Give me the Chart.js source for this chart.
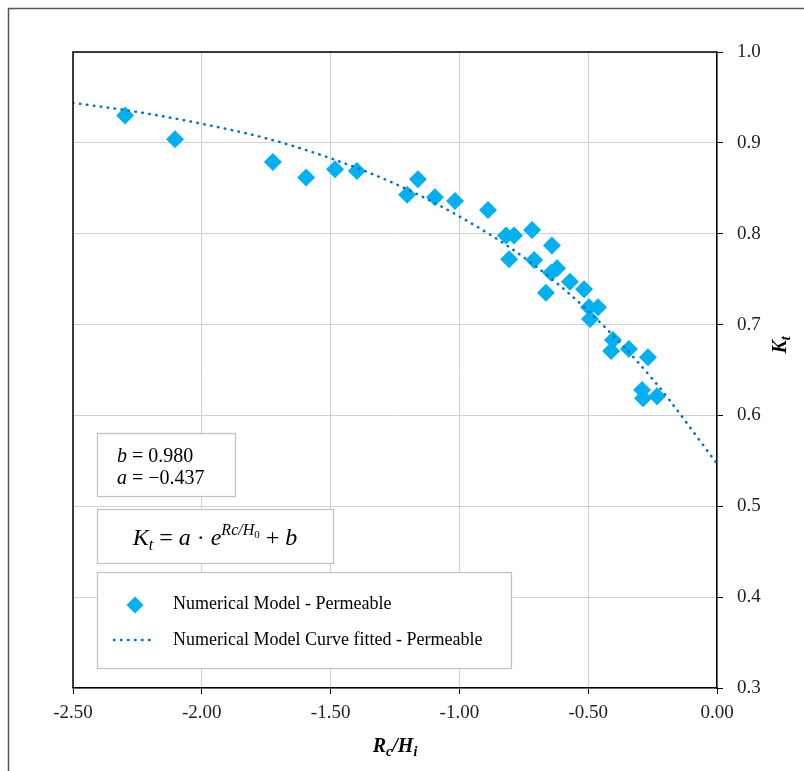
<!DOCTYPE html>
<html><head><meta charset="utf-8">
<script src="https://cdn.jsdelivr.net/npm/chart.js@4/dist/chart.umd.min.js"></script>
<style>html,body{margin:0;padding:0;background:#fff;}#wrap{width:804px;height:771px;position:relative;}</style>
</head><body><div id="wrap"><canvas id="c" width="804" height="771"></canvas></div>
<script>
// ---- data ----
const modelX = [-2.298,-2.104,-1.724,-1.595,-1.483,-1.398,-1.203,-1.161,-1.095,-1.017,-0.889,-0.819,-0.807,-0.788,-0.718,-0.710,-0.664,-0.644,-0.641,-0.621,-0.571,-0.516,-0.497,-0.493,-0.462,-0.411,-0.404,-0.342,-0.291,-0.287,-0.268,-0.233];
const modelY = [0.930,0.904,0.879,0.862,0.871,0.869,0.843,0.860,0.840,0.836,0.826,0.798,0.772,0.798,0.804,0.771,0.735,0.757,0.787,0.762,0.747,0.739,0.719,0.706,0.719,0.671,0.683,0.673,0.628,0.619,0.664,0.621];
const fitX = [-2.5,-2.25,-2.0,-1.75,-1.5,-1.25,-1.0,-0.75,-0.5,-0.25,0.0];
const fitY = [0.944,0.934,0.921,0.905,0.883,0.855,0.819,0.774,0.715,0.640,0.547];
const xTicks = [-2.5,-2.0,-1.5,-1.0,-0.5,0.0];
const yTicks = [0.3,0.4,0.5,0.6,0.7,0.8,0.9,1.0];
const seriesNames = ['Numerical Model - Permeable','Numerical Model Curve fitted - Permeable'];
const coefB = '0.980';
const coefA = '\u22120.437';

const SERIF = '"Liberation Serif", "Times New Roman", serif';
const PT_COLOR = '#00B0F0';
const LINE_COLOR = '#0070C0';

function runsWidth(ctx, runs){ let w=0; for(const r of runs){ ctx.font=r.f; w+=ctx.measureText(r.t).width; } return w; }
function drawRuns(ctx, x, y, runs){ for(const r of runs){ ctx.font=r.f; ctx.fillText(r.t, x, y+(r.dy||0)); x+=ctx.measureText(r.t).width; } }
function diamond(ctx, x, y, r){ ctx.beginPath(); ctx.moveTo(x, y-r); ctx.lineTo(x+r, y); ctx.lineTo(x, y+r); ctx.lineTo(x-r, y); ctx.closePath(); ctx.fill(); }

const decor = {
  id: 'decor',
  beforeDraw(chart){
    const ctx = chart.ctx;
    ctx.save();
    ctx.fillStyle = '#fff'; ctx.fillRect(0,0,chart.width,chart.height);
    ctx.strokeStyle = '#555'; ctx.lineWidth = 1.5;
    ctx.beginPath(); ctx.moveTo(8.5, chart.height); ctx.lineTo(8.5, 8.5); ctx.lineTo(chart.width, 8.5); ctx.stroke();
    ctx.restore();
  },
  afterDraw(chart){
    const ctx = chart.ctx, ca = chart.chartArea;
    ctx.save();
    ctx.strokeStyle = '#000'; ctx.lineWidth = 1.5;
    ctx.beginPath(); ctx.moveTo(ca.left, ca.bottom); ctx.lineTo(ca.left, ca.top); ctx.lineTo(ca.right, ca.top); ctx.stroke();
    ctx.fillStyle = '#000'; ctx.textBaseline = 'alphabetic'; ctx.textAlign = 'left';
    const bi = 'bold italic 20px '+SERIF, bis = 'bold italic 14px '+SERIF;
    const xr = [{t:'R',f:bi},{t:'c',f:bis,dy:4},{t:'/',f:bi},{t:'H',f:bi},{t:'i',f:bis,dy:4}];
    const xw = runsWidth(ctx, xr);
    drawRuns(ctx, (ca.left+ca.right)/2 - xw/2, 752, xr);
    const yr = [{t:'K',f:bi},{t:'t',f:bis,dy:4}];
    const yw = runsWidth(ctx, yr);
    ctx.save(); ctx.translate(786, 345); ctx.rotate(-Math.PI/2);
    drawRuns(ctx, -yw/2, 0, yr); ctx.restore();
    const bx = ca.left+24;
    ctx.fillStyle='#fff'; ctx.fillRect(bx, 433, 138, 63);
    ctx.strokeStyle='#bfbfbf'; ctx.lineWidth=1.2; ctx.strokeRect(bx+0.5, 433.5, 138, 63);
    ctx.fillStyle='#000';
    const it='italic 20px '+SERIF, up='20px '+SERIF;
    drawRuns(ctx, bx+20, 462, [{t:'b',f:it},{t:' = ',f:up},{t:coefB,f:up}]);
    drawRuns(ctx, bx+20, 484, [{t:'a',f:it},{t:' = ',f:up},{t:coefA,f:up}]);
    ctx.fillStyle='#fff'; ctx.fillRect(bx, 509, 236, 54);
    ctx.strokeStyle='#bfbfbf'; ctx.strokeRect(bx+0.5, 509.5, 236, 54);
    ctx.fillStyle='#000';
    const it2='italic 24px '+SERIF, up2='24px '+SERIF, sit='italic 16px '+SERIF, sup='11px '+SERIF;
    const fr = [{t:'K',f:it2},{t:'t',f:sit,dy:5},{t:' = ',f:up2},{t:'a',f:it2},{t:' \u00B7 ',f:up2},{t:'e',f:it2},
                {t:'Rc/H',f:sit,dy:-10},{t:'0',f:sup,dy:-7},{t:' + ',f:up2},{t:'b',f:it2}];
    const fw = runsWidth(ctx, fr);
    drawRuns(ctx, bx + 118 - fw/2, 545, fr);
    ctx.fillStyle='#fff'; ctx.fillRect(bx, 572, 414, 96);
    ctx.strokeStyle='#bfbfbf'; ctx.strokeRect(bx+0.5, 572.5, 414, 96);
    ctx.fillStyle = PT_COLOR; diamond(ctx, 135, 605, 8.5);
    ctx.strokeStyle = LINE_COLOR; ctx.lineWidth = 2.5; ctx.lineCap='round'; ctx.setLineDash([0.5,6.5]);
    ctx.beginPath(); ctx.moveTo(114, 640); ctx.lineTo(155, 640); ctx.stroke(); ctx.setLineDash([]);
    ctx.fillStyle='#000'; ctx.font='18px '+SERIF;
    ctx.fillText(seriesNames[0], 173, 609);
    ctx.fillText(seriesNames[1], 173, 645);
    ctx.restore();
  }
};

const scatterData = modelX.map((x,i)=>({x, y: modelY[i]}));
const fitData = fitX.map((x,i)=>({x, y: fitY[i]}));

new Chart(document.getElementById('c'), {
  type: 'scatter',
  data: { datasets: [
    { label: seriesNames[1], type: 'line', data: fitData, showLine: true, pointRadius: 0, borderColor: LINE_COLOR,
      borderWidth: 2.5, borderDash: [0.5, 6.5], borderCapStyle: 'round', cubicInterpolationMode: 'monotone', fill: false, order: 0 },
    { label: seriesNames[0], data: scatterData, pointStyle: 'rectRot', pointRadius: 9, pointHoverRadius: 9,
      backgroundColor: PT_COLOR, borderColor: PT_COLOR, borderWidth: 0, order: 1 }
  ]},
  options: {
    responsive: false, animation: false, devicePixelRatio: 1,
    layout: { padding: { left: 73, top: 52, right: 0, bottom: 0 } },
    plugins: { legend: { display: false }, tooltip: { enabled: false } },
    scales: {
      x: { type: 'linear', position: 'bottom', min: -2.5, max: 0,
        afterBuildTicks: s => { s.ticks = xTicks.map(v=>({value:v})); },
        afterFit: s => { s.height = 83; },
        ticks: { callback: v => Number(v).toFixed(2), font: { family: SERIF, size: 19 }, color: '#222', padding: 8, maxRotation: 0 },
        grid: { color: '#d0d0d0', lineWidth: 1, tickColor: '#000', tickLength: 6 },
        border: { color: '#000', width: 1.5 } },
      y: { type: 'linear', position: 'right', min: 0.3, max: 1.0,
        afterBuildTicks: s => { s.ticks = yTicks.map(v=>({value:v})); },
        afterFit: s => { s.width = 87; },
        ticks: { callback: v => Number(v).toFixed(1), font: { family: SERIF, size: 19 }, color: '#222', padding: 14 },
        grid: { color: '#d0d0d0', lineWidth: 1, tickColor: '#000', tickLength: 6 },
        border: { color: '#000', width: 1.5 } }
    }
  },
  plugins: [decor]
});
</script></body></html>
